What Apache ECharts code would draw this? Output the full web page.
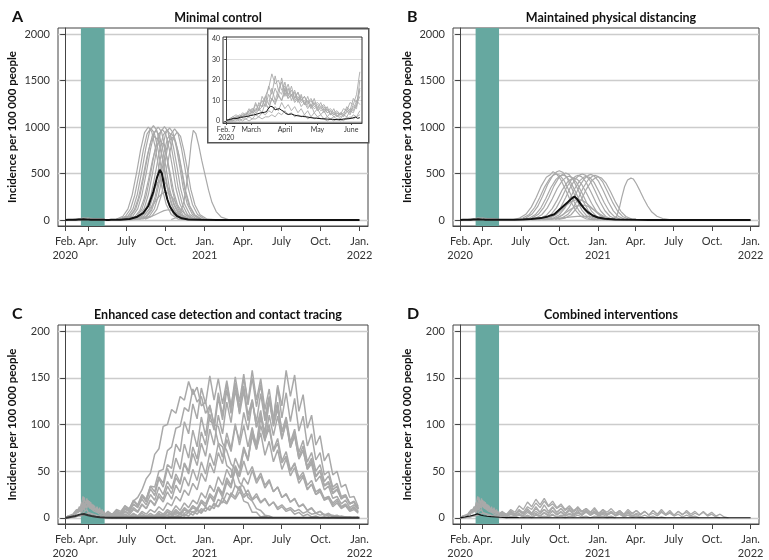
<!DOCTYPE html>
<html lang="en">
<head>
<meta charset="UTF-8" />
<title>Incidence scenarios</title>
<script src="https://cdn.jsdelivr.net/npm/echarts@6/dist/echarts.min.js"></script>
<style>
  html, body { margin: 0; padding: 0; background: #fff; }
  #main { width: 769px; height: 560px; }
</style>
</head>
<body>
<div id="main"></div>
<script>
// x = days since Feb. 7 2020
const xTickDays = [0, 54, 145, 237, 329, 419, 510, 602, 694];
const xTickLabels = ["Feb.\n2020", "Apr.", "July", "Oct.", "Jan.\n2021", "Apr.", "July", "Oct.", "Jan.\n2022"];
const insetTickDays = [0, 23, 54, 84, 115];
const insetTickLabels = ["Feb. 7\n2020", "March", "April", "May", "June"];
const yTicksHigh = [0, 500, 1000, 1500, 2000];
const yTicksLow = [0, 50, 100, 150, 200];
const insetYTicks = [0, 10, 20, 30, 40];
const distancingPeriod = [37, 93];

const panelTitles = ["Minimal control", "Maintained physical distancing",
  "Enhanced case detection and contact tracing", "Combined interventions"];
const panelLetters = ["A", "B", "C", "D"];

// sampling grids of the stored runs
const earlyDays = Array.from({ length: 42 }, (_, i) => i * 3);        // 0..123
const lateDays = Array.from({ length: 61 }, (_, i) => 91 + i * 10);   // 91..691

// early phase runs, values every 3 days
const earlyRuns = [
  [0,1,2,1,3,2,4,3,6,5,8,7,12,16,23,18,20,15,17,13,15,11,14,10,12,9,11,8,9,7,8,5,6,4,5,3,6,5,9,8,13,24],
  [0,0,1,2,1,3,2,5,4,8,6,10,7,13,10,16,12,21,14,18,12,15,10,12,8,10,6,9,5,7,4,6,3,4,2,4,3,7,5,11,9,16],
  [0,1,0,2,1,2,3,2,5,3,6,4,9,6,11,8,13,10,16,11,13,9,11,7,9,6,8,4,6,3,5,2,4,2,3,1,3,2,5,4,8,12],
  [0,0,0,1,0,1,1,2,1,3,2,4,3,5,4,7,5,9,6,8,5,7,4,6,3,5,2,4,2,3,1,2,1,2,1,1,0,2,1,3,2,5],
  [0,1,2,3,2,4,3,6,4,9,5,12,9,17,13,22,15,19,12,16,10,14,9,13,8,12,7,11,6,9,5,7,3,6,2,4,2,5,3,7,6,20],
  [0,0,1,1,2,2,3,4,3,6,5,7,8,6,11,9,12,10,14,11,13,10,12,9,10,7,8,6,7,5,6,4,5,3,4,2,3,4,6,5,10,8],
  [0,0,0,0,1,0,1,0,1,1,2,1,2,2,3,2,4,3,5,3,4,2,3,2,3,1,2,1,2,1,1,0,1,0,1,0,1,1,2,1,2,3],
  [0,1,1,2,2,3,3,5,6,4,9,7,12,8,16,10,15,13,19,12,17,11,14,10,12,8,10,7,8,6,7,4,5,3,4,3,4,6,4,8,7,15]
];

const meanEarly = [[0,0.3],[4,0.8],[7,1.3],[10,1.2],[13,1.8],[16,1.9],[19,2.2],[22,2.6],[25,2.9],[28,3.3],[32,4],[35,4.2],[37,4.5],[39,6.3],[41,7.2],[43,6.8],[45,5.4],[47,5.8],[49,6],[51,5.2],[53,4.6],[55,3.6],[57,3.2],[60,3.4],[63,2.8],[66,2.5],[70,2.2],[74,2],[78,1.6],[83,1.3],[88,1.1],[93,0.9],[98,0.8],[103,0.6],[108,0.9],[113,1.1],[116,1.4],[119,1.9],[121,1.3],[123,1.6]];

// A: minimal control, [day, incidence]
const minimalRuns = [
  [[120,8],[136,40],[148,120],[158,270],[168,500],[178,760],[187,940],[196,1000],[204,950],[212,790],[220,580],[228,350],[238,170],[250,60],[266,10],[296,0]],
  [[126,8],[142,39],[154,118],[164,266],[174,493],[184,749],[193,926],[202,985],[210,936],[218,778],[226,571],[234,345],[244,167],[256,59],[272,10],[302,0]],
  [[132,8],[148,41],[160,122],[170,274],[180,508],[190,771],[199,954],[208,1015],[216,964],[224,802],[232,589],[240,355],[250,173],[262,61],[278,10],[308,0]],
  [[138,8],[154,38],[166,115],[176,259],[186,480],[196,730],[205,902],[214,960],[222,912],[230,758],[238,557],[246,336],[256,163],[268,58],[284,10],[314,0]],
  [[143,8],[159,40],[171,120],[181,270],[191,500],[201,760],[210,940],[219,1000],[227,950],[235,790],[243,580],[251,350],[261,170],[273,60],[289,10],[319,0]],
  [[148,7],[164,34],[176,102],[186,230],[196,425],[206,646],[215,799],[224,850],[232,808],[240,672],[248,493],[256,298],[266,145],[278,51],[294,9],[324,0]],
  [[153,8],[169,39],[181,117],[191,263],[201,488],[211,741],[220,917],[229,975],[237,926],[245,770],[253,566],[261,341],[271,166],[283,59],[299,10],[329,0]],
  [[158,8],[174,40],[186,121],[196,271],[206,503],[216,764],[225,945],[234,1005],[242,955],[250,794],[258,583],[266,352],[276,171],[288,60],[304,10],[334,0]],
  [[164,8],[180,39],[192,116],[202,262],[212,485],[222,737],[231,912],[240,970],[248,922],[256,766],[264,563],[272,340],[282,165],[294,58],[310,10],[340,0]],
  [[170,8],[186,40],[198,119],[208,267],[218,495],[228,752],[237,931],[246,990],[254,941],[262,782],[270,574],[278,347],[288,168],[300,59],[316,10],[346,0]],
  [[176,7],[192,36],[204,107],[214,240],[224,445],[234,676],[243,837],[252,890],[260,846],[268,703],[276,516],[284,312],[294,151],[306,53],[322,9],[352,0]],
  [[182,8],[198,39],[210,118],[220,265],[230,490],[240,745],[249,921],[258,980],[266,931],[274,774],[282,568],[290,343],[300,167],[312,59],[328,10],[358,0]],
  [[188,8],[204,38],[216,113],[226,255],[236,473],[246,718],[255,888],[264,945],[272,898],[280,747],[288,548],[296,331],[306,161],[318,57],[334,9],[364,0]],
  [[135,7],[151,36],[163,108],[173,243],[183,450],[193,684],[202,846],[211,900],[219,855],[227,711],[235,522],[243,315],[253,153],[265,54],[281,9],[311,0]],
  [[174,7],[190,37],[202,112],[212,251],[222,465],[232,707],[241,874],[250,930],[258,884],[266,735],[274,539],[282,326],[292,158],[304,56],[320,9],[350,0]],
  [[151,3],[167,17],[179,52],[189,116],[199,215],[209,327],[218,404],[227,430],[235,409],[243,340],[251,249],[259,151],[269,73],[281,26],[297,4],[327,0]],
  [[140,2],[160,10],[180,40],[195,95],[208,170],[220,245],[229,285],[236,300],[244,285],[252,245],[262,180],[272,115],[284,55],[298,18],[315,4],[340,0]],
  [[150,1],[175,8],[195,25],[210,50],[222,78],[233,100],[243,110],[253,100],[264,75],[276,45],[290,20],[306,6],[330,0]],
  [[250,5],[262,25],[272,80],[280,200],[286,380],[292,600],[297,820],[302,965],[308,930],[315,800],[322,640],[330,480],[338,320],[346,190],[356,90],[368,30],[385,5],[420,0]]
];
const meanMinimal = [[130,2],[152,10],[170,35],[184,75],[196,150],[208,305],[216,450],[223,540],[228,500],[235,330],[241,220],[247,145],[255,85],[263,45],[275,18],[290,6],[320,1],[360,0],[694,0]];

// B: maintained physical distancing, [day, incidence]
const distancingRuns = [
  [[127,5],[142,20],[157,61],[170,138],[182,245],[194,367],[206,459],[216,490],[222,520],[230,495],[240,439],[252,326],[264,204],[276,102],[288,41],[302,10],[322,0]],
  [[135,5],[150,20],[165,59],[178,134],[190,238],[202,356],[214,446],[224,485],[230,495],[238,480],[248,426],[260,317],[272,198],[284,99],[296,40],[310,10],[330,0]],
  [[142,5],[157,21],[172,64],[185,143],[197,254],[209,382],[221,477],[231,519],[237,530],[245,514],[255,456],[267,339],[279,212],[291,106],[303,42],[317,11],[337,0]],
  [[150,5],[165,19],[180,58],[193,131],[205,233],[217,349],[229,437],[239,475],[245,485],[253,470],[263,417],[275,310],[287,194],[299,97],[311,39],[325,10],[345,0]],
  [[157,5],[172,20],[187,61],[200,136],[212,242],[224,364],[236,455],[246,495],[252,505],[260,490],[270,434],[282,323],[294,202],[306,101],[318,40],[332,10],[352,0]],
  [[165,5],[180,19],[195,56],[208,127],[220,226],[232,338],[244,423],[254,461],[260,470],[268,456],[278,404],[290,301],[302,188],[314,94],[326,38],[340,9],[360,0]],
  [[177,5],[192,18],[207,54],[220,122],[232,216],[244,324],[256,405],[266,441],[272,450],[280,437],[290,387],[302,288],[314,180],[326,90],[338,36],[352,9],[372,0]],
  [[187,5],[202,19],[217,58],[230,130],[242,230],[254,346],[266,432],[276,470],[282,480],[290,466],[300,413],[312,307],[324,192],[336,96],[348,38],[362,10],[382,0]],
  [[197,5],[212,20],[227,59],[240,134],[252,238],[264,356],[276,446],[286,485],[292,495],[300,480],[310,426],[322,317],[334,198],[346,99],[358,40],[372,10],[392,0]],
  [[207,5],[222,19],[237,56],[250,127],[262,226],[274,338],[286,423],[296,461],[302,470],[310,456],[320,404],[332,301],[344,188],[356,94],[368,38],[382,9],[402,0]],
  [[217,5],[232,20],[247,59],[260,132],[272,235],[284,353],[296,441],[306,480],[312,490],[320,475],[330,421],[342,314],[354,196],[366,98],[378,39],[392,10],[412,0]],
  [[227,5],[242,19],[257,58],[270,130],[282,230],[294,346],[306,432],[316,470],[322,480],[330,466],[340,413],[352,307],[364,192],[376,96],[388,38],[402,10],[422,0]],
  [[235,5],[250,19],[265,56],[278,126],[290,223],[302,335],[314,419],[324,456],[330,465],[338,451],[348,400],[360,298],[372,186],[384,93],[396,37],[410,9],[430,0]],
  [[187,2],[202,9],[217,26],[230,59],[242,106],[254,158],[266,198],[276,216],[282,220],[290,213],[300,189],[312,141],[324,88],[336,44],[348,18],[362,4],[382,0]],
  [[197,2],[212,6],[227,19],[240,43],[252,77],[264,115],[276,144],[286,157],[292,160],[300,155],[310,138],[322,102],[334,64],[346,32],[356,13],[372,3],[392,0]],
  [[170,0],[200,5],[230,15],[260,30],[280,38],[300,40],[320,37],[340,28],[360,15],[380,5],[400,0]],
  [[350,0],[365,8],[374,40],[380,120],[386,240],[393,360],[400,430],[408,450],[414,440],[421,390],[430,310],[439,225],[448,150],[458,85],[470,40],[484,15],[500,3],[520,0]]
];
const meanDistancing = [[110,1],[130,3],[150,6],[170,10],[193,20],[210,38],[225,62],[241,125],[257,190],[267,232],[273,252],[280,222],[289,165],[297,120],[305,84],[317,48],[329,26],[345,12],[370,4],[420,1],[450,0],[694,0]];

// C: enhanced case detection and contact tracing, values every 10 days from day 91
const tracingRuns = [
  [3,6,4,9,7,13,10,18,22,30,42,48,68,74,98,100,116,112,130,126,146,132,140,120,124,104,100,80,76,56,52,34,32,18,16,6,6,1,2,0],
  [2,4,2,6,4,9,7,14,12,22,20,34,33,50,52,72,76,96,98,118,114,138,124,130,112,120,100,98,80,72,58,52,38,33,22,18,10,8,3,2,0],
  [2,6,3,8,5,13,9,19,14,25,20,34,28,44,37,57,53,79,71,103,90,122,106,139,122,152,126,149,122,147,120,144,118,141,110,126,97,111,84,96,71,80,59,66,50,58,43,49,35,40,28,31,21,23,16,20,12,15,9,12,7],
  [0,3,1,5,3,10,7,15,11,20,14,25,19,33,25,39,31,47,38,58,47,69,56,80,66,95,78,110,90,124,102,137,113,150,124,158,126,149,116,138,106,124,92,106,77,88,64,73,52,58,39,45,30,34,21,23,15,19,11,14,9],
  [0,2,1,4,2,7,5,11,7,15,10,19,14,26,20,34,26,43,36,59,50,76,63,92,78,111,94,129,105,137,112,144,111,136,104,127,97,115,85,100,73,85,61,71,51,59,41,46,31,36,25,28,19,21,12,16,10,13,7,9,5],
  [0,2,0,3,1,4,1,5,2,7,4,9,6,12,8,16,13,23,18,30,24,37,30,48,39,59,48,70,58,84,71,98,83,113,94,124,103,133,104,126,99,120,92,108,81,95,70,83,60,70,50,57,39,45,30,34,20,24,15,18,10],
  [2,6,3,8,5,11,8,18,13,24,17,31,24,42,33,53,42,64,52,79,64,94,76,108,88,121,99,134,110,144,117,151,124,154,121,150,119,143,108,130,98,117,86,102,75,88,63,72,52,61,44,50,35,39,27,31,21,23,15,17,10],
  [1,0,2,0,1,2,0,2,1,3,1,2,1,4,2,6,3,7,4,9,6,11,8,17,12,24,17,31,22,38,32,56,46,74,61,91,75,108,90,126,105,142,120,158,130,153,114,132,96,110,78,88,61,69,46,50,33,36,22,23,12],
  [1,3,1,3,1,4,1,4,2,5,2,5,2,7,4,9,6,13,8,16,11,19,15,27,21,35,28,44,35,52,43,64,53,76,63,88,73,99,82,110,88,109,84,103,76,92,66,77,55,64,45,51,34,37,26,30,21,24,15,17,10],
  [3,7,3,7,3,7,3,9,6,14,10,19,13,23,17,28,20,35,27,44,34,52,40,60,47,69,56,80,65,91,74,101,78,99,76,97,74,91,67,82,60,73,52,63,45,54,37,44,30,36,25,30,19,23,14,18,11,14,8,11,6],
  [1,0,2,1,0,2,1,2,0,2,1,2,1,3,1,3,1,6,3,9,6,13,9,17,12,23,19,33,26,43,35,53,47,73,63,94,79,112,91,127,104,140,107,134,103,128,93,109,77,90,62,70,46,50,33,37,23,25,16,17,10],
  [1,0,1,2,0,1,2,1,0,2,1,3,1,5,2,7,4,9,5,11,7,13,10,19,15,26,21,33,25,40,35,51,44,61,46,55,40,48,35,41,28,33,22,25,17,20,12,14,8,11,5,7,3,5,2,3,0,1,0,1,0],
  [1,0,1,0,2,1,0,1,2,0,1,0,2,1,0,1,2,1,4,2,6,3,8,5,11,8,16,12,22,16,27,22,34,24,30,20,26,17,21,13,17,9,12,7,9,4,6,2,4,1,2,0,1,0,1,0,0,1,0,0,1],
  [0,1,0,1,1,0,1,0,2,1,0,1,0,1,2,0,1,2,1,4,2,7,4,10,7,13,10,20,16,27,23,35,29,43,36,51,37,45,32,39,28,33,22,26,17,21,12,15,8,10,5,7,3,4,1,2,1,0,1,0,0],
  [1,0,1,2,0,1,0,1,2,1,2,1,3,2,4,3,5,4,6,5,8,6,9,7,11,9,14,12,18,15,24,20,28,22,26,19,23,16,20,13,17,11,14,9,11,7,9,5,7,4,5,3,4,2,3,1,2,1,1,0,1]
];
const meanTracing = [[0,0],[6,0.5],[12,1],[18,1.5],[24,2],[30,3],[36,3.8],[40,4.7],[44,4.2],[48,3.6],[54,2.8],[62,2],[72,1.3],[82,0.8],[93,0.4],[110,0.2],[694,0.2]];

// D: combined interventions, values every 10 days from day 91
const combinedRuns = [
  [3,6,4,9,6,13,9,17,12,20,14,21,13,18,11,15,9,13,8,11,7,10,6,9,5,8,4,7,3,6,2,5,2,4,1,3,1,2,0,1,0],
  [2,4,3,6,4,8,6,12,9,16,11,18,12,15,10,13,8,11,7,9,6,8,5,7,4,6,3,5,3,4,2,3,1,2,1,0],
  [4,7,3,8,4,9,5,8,4,10,6,9,5,11,6,10,5,9,6,12,7,10,6,11,5,9,6,10,5,8,4,9,5,8,4,7,3,8,4,7,3,6,3,7,4,6,2,5,3,7,3,6,2,4,1,0],
  [2,5,2,6,3,7,4,8,3,7,4,9,5,8,4,7,3,8,4,6,3,7,3,6,2,5,3,6,2,4,1,3,1,2,0],
  [1,3,1,4,2,5,2,6,3,5,2,6,3,7,3,6,2,5,3,6,4,8,4,7,3,9,4,7,3,8,4,6,2,5,3,7,3,5,2,6,3,5,2,4,1,3,1,2,0],
  [3,6,2,7,3,8,4,10,5,12,6,14,7,12,6,10,5,9,4,8,3,7,3,6,2,4,1,2,0],
  [1,2,0,2,1,3,1,2,0,3,1,2,1,3,1,2,0,2,1,3,1,2,0,2,1,2,0,1,0],
  [2,4,1,5,2,4,1,3,1,4,2,5,2,4,1,3,2,4,2,5,3,6,3,5,2,6,3,7,3,6,3,7,4,8,4,7,3,8,4,9,4,8,3,7,3,8,4,7,3,6,2,4,1,0]
];
const meanCombined = [[0,0],[6,0.5],[12,1],[18,1.6],[24,2.1],[30,2.8],[36,3.5],[41,4.3],[45,3.8],[50,3],[56,2.3],[64,1.8],[74,1.3],[84,1],[94,0.7],[110,0.4],[140,0.3],[694,0.2]];

const TEAL = "#66a8a0";
const GRAY = "#a9a9a9";
const FONT = "'Source Sans Pro', Lato, 'Noto Sans', sans-serif";

function onGrid(days, values) {
  return values.map((v, i) => [days[i], v]);
}

const earlyPairs = earlyRuns.map((r) => onGrid(earlyDays, r));
const earlyCut = earlyRuns.map((r) => onGrid(earlyDays, r.slice(0, 32)));
const meanEarlyCut = meanEarly.filter((p) => p[0] <= 93);

// grid 0..3 = panels A..D, grid 4 = inset of A
const panelGrids = [
  { left: 58, top: 28, width: 310, height: 198 },
  { left: 453, top: 28, width: 306, height: 198 },
  { left: 58, top: 325, width: 310, height: 199 },
  { left: 453, top: 325, width: 306, height: 199 }
];
const insetGrid = { left: 223, top: 37, width: 139, height: 86 };

function xAxisFor(g, ticks, labels, min, max, small) {
  return {
    type: "value", gridIndex: g, min, max, z: 1,
    axisLine: { onZero: false, lineStyle: { color: "#444", width: 1 } },
    axisTick: { customValues: ticks, length: small ? 2 : 5, lineStyle: { color: "#444" } },
    axisLabel: {
      customValues: ticks,
      formatter: (v) => labels[ticks.indexOf(v)],
      color: "#333", fontSize: small ? 7 : 11, lineHeight: small ? 8 : 14,
      margin: small ? 3 : 8, fontFamily: FONT
    },
    splitLine: { show: false }
  };
}

function yAxisFor(g, ticks, min, max, small) {
  const ax = {
    type: "value", gridIndex: g, min, max, z: 1,
    axisLine: { show: true, lineStyle: { color: "#444", width: 1 } },
    axisTick: { show: true, customValues: ticks, length: small ? 2 : 5, lineStyle: { color: "#444" } },
    axisLabel: {
      customValues: ticks, formatter: (v) => String(v),
      color: "#333", fontSize: small ? 7 : 11, margin: small ? 3 : 8, fontFamily: FONT
    },
    splitLine: { show: true, lineStyle: { color: small ? "#d6d6d6" : "#cccccc", width: small ? 0.8 : 1.3 } }
  };
  if (!small) {
    ax.name = "Incidence per 100 000 people";
    ax.nameLocation = "middle";
    ax.nameGap = 40;
    ax.nameTextStyle = { fontSize: 11.5, fontWeight: "bold", color: "#111", fontFamily: FONT };
  }
  return ax;
}

function tealSeries(g, z) {
  return {
    type: "line", xAxisIndex: g, yAxisIndex: g, data: [], z, silent: true,
    markArea: {
      silent: true,
      itemStyle: { color: TEAL, opacity: 1 },
      data: [[{ xAxis: distancingPeriod[0] }, { xAxis: distancingPeriod[1] }]]
    }
  };
}

function lineSeries(g, data, color, width, z) {
  return {
    type: "line", xAxisIndex: g, yAxisIndex: g, data, z,
    symbol: "none", showSymbol: false, silent: true,
    lineStyle: { color, width }
  };
}

const series = [];
for (let g = 0; g < 4; g++) series.push(tealSeries(g, 0));
series.push(tealSeries(4, 16));

// panel A
earlyCut.forEach((d) => series.push(lineSeries(0, d, GRAY, 1.2, 2)));
minimalRuns.forEach((d) => series.push(lineSeries(0, d, GRAY, 1.2, 2)));
series.push(lineSeries(0, meanEarly.concat(meanMinimal), "#111", 2, 3));
// panel B
earlyCut.forEach((d) => series.push(lineSeries(1, d, GRAY, 1.2, 2)));
distancingRuns.forEach((d) => series.push(lineSeries(1, d, GRAY, 1.2, 2)));
series.push(lineSeries(1, meanEarlyCut.concat(meanDistancing), "#111", 2, 3));
// panel C
earlyCut.forEach((d) => series.push(lineSeries(2, d, GRAY, 1.3, 2)));
tracingRuns.forEach((r) => series.push(lineSeries(2, onGrid(lateDays, r), GRAY, 1.5, 2)));
series.push(lineSeries(2, meanTracing, "#333", 2, 3));
// panel D
earlyCut.forEach((d) => series.push(lineSeries(3, d, GRAY, 1.3, 2)));
combinedRuns.forEach((r) => series.push(lineSeries(3, onGrid(lateDays, r), GRAY, 1.3, 2)));
series.push(lineSeries(3, meanCombined, "#111", 1.2, 3));
// inset
earlyPairs.forEach((d) => series.push(lineSeries(4, d, GRAY, 0.9, 18)));
series.push(lineSeries(4, meanEarly, "#111", 1, 19));

const titles = [];
panelGrids.forEach((gr, i) => {
  titles.push({
    text: panelLetters[i], left: gr.left - 51, top: gr.top - 24,
    textStyle: { fontSize: 16, fontWeight: "bold", color: "#111", fontFamily: FONT }
  });
  titles.push({
    text: panelTitles[i], left: gr.left + gr.width / 2, top: gr.top - 22, textAlign: "center",
    textStyle: { fontSize: 12.5, fontWeight: "bold", color: "#111", fontFamily: FONT }
  });
});

const chart = echarts.init(document.getElementById("main"), null, { renderer: "canvas" });
chart.setOption({
  animation: false,
  backgroundColor: "#fff",
  textStyle: { fontFamily: FONT },
  title: titles,
  grid: panelGrids.map((gr) => Object.assign({ show: true, borderColor: "#444", borderWidth: 1, backgroundColor: "transparent" }, gr))
    .concat([Object.assign({ show: true, borderColor: "#333", borderWidth: 1, backgroundColor: "transparent", z: 20 }, insetGrid)]),
  xAxis: [
    xAxisFor(0, xTickDays, xTickLabels, -17, 714, false),
    xAxisFor(1, xTickDays, xTickLabels, -17, 714, false),
    xAxisFor(2, xTickDays, xTickLabels, -17, 714, false),
    xAxisFor(3, xTickDays, xTickLabels, -17, 714, false),
    Object.assign(xAxisFor(4, insetTickDays, insetTickLabels, -3, 125, true), { z: 20 })
  ],
  yAxis: [
    yAxisFor(0, yTicksHigh, -65, 2065, false),
    yAxisFor(1, yTicksHigh, -65, 2065, false),
    yAxisFor(2, yTicksLow, -6.5, 206.5, false),
    yAxisFor(3, yTicksLow, -6.5, 206.5, false),
    Object.assign(yAxisFor(4, insetYTicks, -1, 41, true), { z: 17 })
  ],
  graphic: [{
    type: "rect", left: 207, top: 28, z: 15,
    shape: { width: 161, height: 114 },
    style: { fill: "#fff", stroke: "#555", lineWidth: 1.5 }
  }],
  series
});
</script>
</body>
</html>
